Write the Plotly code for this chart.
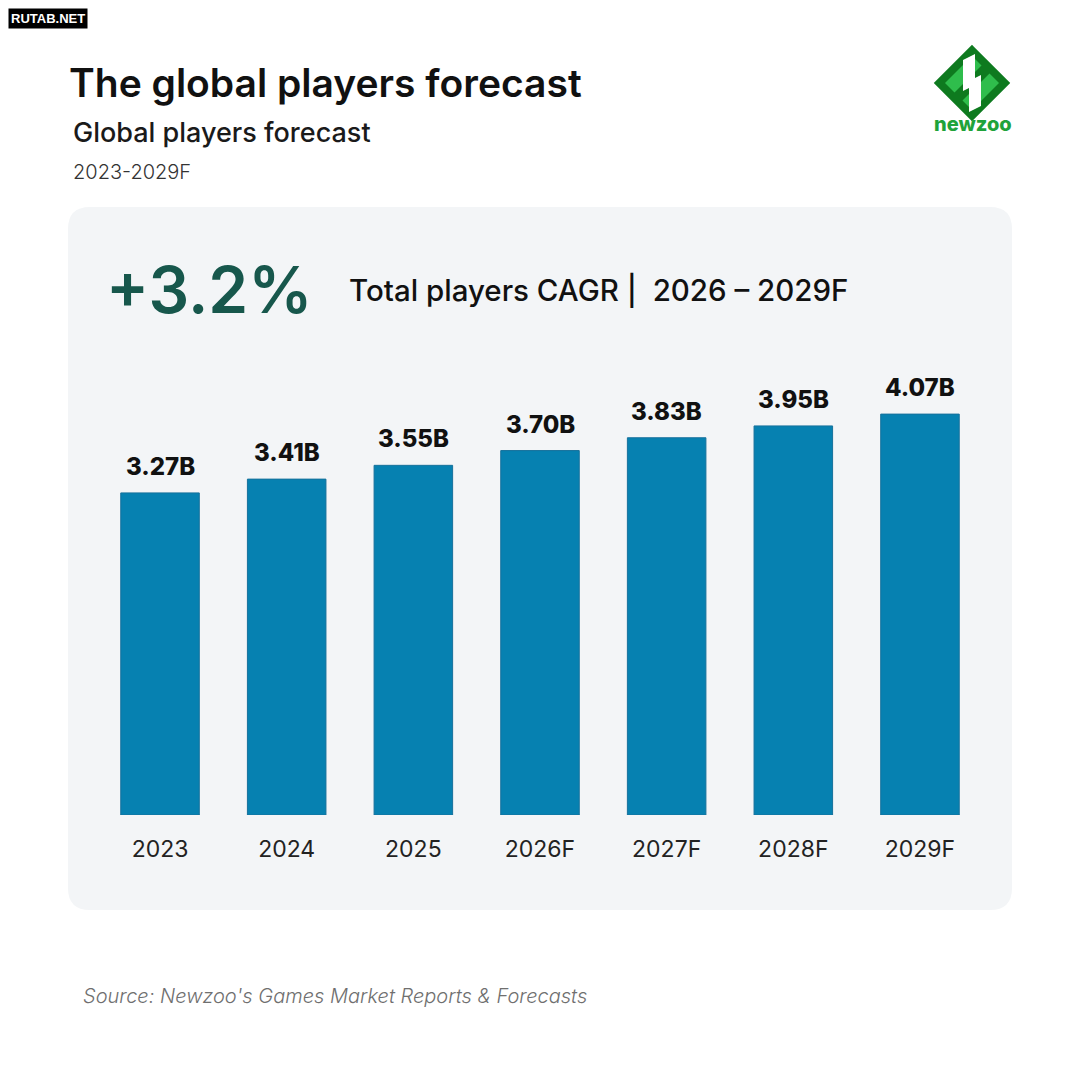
import plotly.graph_objects as go

# datos del gráfico
years = ["2023", "2024", "2025", "2026F", "2027F", "2028F", "2029F"]
players = [3.27, 3.41, 3.55, 3.70, 3.83, 3.95, 4.07]
value_labels = ["3.27B", "3.41B", "3.55B", "3.70B", "3.83B", "3.95B", "4.07B"]

cagr_text = "+3.2%"
cagr_label = "Total players CAGR |  2026 – 2029F"

W = H = 1080
OFF = 8  # margen del body de la página
FONT = "Inter"


def px(x):
    return (x - OFF) / W


def py(y):
    return 1 - (y - OFF) / H


def rounded_rect(x0, y0, x1, y1, r):
    # path en coordenadas paper (y hacia arriba)
    a, b, c, d = px(x0), py(y1), px(x1), py(y0)
    rx, ry = r / W, r / H
    return (f"M {a+rx},{b} L {c-rx},{b} Q {c},{b} {c},{b+ry} "
            f"L {c},{d-ry} Q {c},{d} {c-rx},{d} L {a+rx},{d} "
            f"Q {a},{d} {a},{d-ry} L {a},{b+ry} Q {a},{b} {a+rx},{b} Z")


def poly(points):
    return "M " + " L ".join(f"{px(x)},{py(y)}" for x, y in points) + " Z"


fig = go.Figure()

fig.add_trace(go.Bar(
    x=years, y=players,
    marker=dict(color="#0681b1", line=dict(color="#16719c", width=1)),
    width=0.62,
    hoverinfo="x+y",
))

# etiquetas de valor arriba de cada barra
annotations = []
for i, (v, lab) in enumerate(zip(players, value_labels)):
    annotations.append(dict(
        x=i, y=v, xref="x", yref="y", text=lab,
        showarrow=False, yanchor="bottom", yshift=10,
        font=dict(family=FONT, size=24, weight=800, color="#111111"),
    ))

# textos fijos
annotations += [
    dict(x=0, y=1, xref="paper", yref="paper", text="<b>RUTAB.NET</b>",
         showarrow=False, xanchor="left", yanchor="top", bgcolor="#000000",
         borderpad=2, font=dict(family="Liberation Sans", size=13, color="white")),
    dict(x=px(67), y=py(82), xref="paper", yref="paper",
         text="The global players forecast", showarrow=False,
         xanchor="left", yanchor="middle",
         font=dict(family=FONT, size=39, weight=600, color="#111111")),
    dict(x=px(71), y=py(132), xref="paper", yref="paper",
         text="Global players forecast", showarrow=False,
         xanchor="left", yanchor="middle",
         font=dict(family=FONT, size=27, weight=500, color="#1a1a1a")),
    dict(x=px(71), y=py(172), xref="paper", yref="paper",
         text="2023-2029F", showarrow=False,
         xanchor="left", yanchor="middle",
         font=dict(family=FONT, size=20, weight=300, color="#333333")),
    dict(x=px(104), y=py(290), xref="paper", yref="paper",
         text=cagr_text, showarrow=False,
         xanchor="left", yanchor="middle",
         font=dict(family=FONT, size=64, weight=600, color="#17574c")),
    dict(x=px(347), y=py(290), xref="paper", yref="paper",
         text=cagr_label, showarrow=False,
         xanchor="left", yanchor="middle",
         font=dict(family=FONT, size=29.5, weight=500, color="#111111")),
    dict(x=px(81), y=py(996), xref="paper", yref="paper",
         text="<i>Source: Newzoo's Games Market Reports & Forecasts</i>",
         showarrow=False, xanchor="left", yanchor="middle",
         font=dict(family=FONT, size=20, weight=300, color="#6f6f6f")),
    dict(x=px(973), y=py(124), xref="paper", yref="paper",
         text="newzoo", showarrow=False,
         xanchor="center", yanchor="middle",
         font=dict(family=FONT, size=20, weight=800, color="#1fa33a")),
]

# panel gris y logo
cx, cy, s = 972, 83, 34
dark, light = "#0e7a1f", "#2fbd4c"
shapes = [
    dict(type="path", xref="paper", yref="paper", layer="below",
         path=rounded_rect(68, 207, 1012, 910, 22),
         fillcolor="#f3f5f7", line=dict(width=0)),
    dict(type="path", xref="paper", yref="paper",
         path=poly([(cx, cy - s), (cx + s, cy), (cx, cy + s), (cx - s, cy)]),
         fillcolor=dark, line=dict(color=dark, width=6)),
    dict(type="path", xref="paper", yref="paper",
         path=poly([(cx, cy - s + 7), (cx + s - 7, cy), (cx, cy + s - 7), (cx - s + 7, cy)]),
         fillcolor=light, line=dict(width=0)),
    # banda diagonal oscura
    dict(type="path", xref="paper", yref="paper",
         path=poly([(cx + 12, cy - 20), (cx + 20, cy - 12), (cx - 12, cy + 20), (cx - 20, cy + 12)]),
         fillcolor=dark, line=dict(width=0)),
    # trazos blancos
    dict(type="path", xref="paper", yref="paper",
         path=poly([(cx - 9, cy - 23), (cx + 3, cy - 29), (cx + 3, cy + 2), (cx - 9, cy + 8)]),
         fillcolor="#ffffff", line=dict(width=0)),
    dict(type="path", xref="paper", yref="paper",
         path=poly([(cx - 3, cy - 2), (cx + 9, cy - 8), (cx + 9, cy + 23), (cx - 3, cy + 29)]),
         fillcolor="#ffffff", line=dict(width=0)),
]

fig.update_layout(
    width=W, height=H,
    margin=dict(l=0, r=0, t=0, b=0),
    paper_bgcolor="white",
    plot_bgcolor="rgba(0,0,0,0)",
    showlegend=False,
    annotations=annotations,
    shapes=shapes,
    xaxis=dict(type="category", domain=[px(96.7), px(983.3)], range=[-0.5, 6.5],
               showgrid=False, zeroline=False, showline=False,
               ticks="", ticklabelstandoff=18,
               tickfont=dict(family=FONT, size=23, color="#222222")),
    yaxis=dict(domain=[py(815), py(322.5)], range=[0, 5],
               showgrid=False, zeroline=False, showline=False,
               showticklabels=False),
)

fig.write_html("out.html")
